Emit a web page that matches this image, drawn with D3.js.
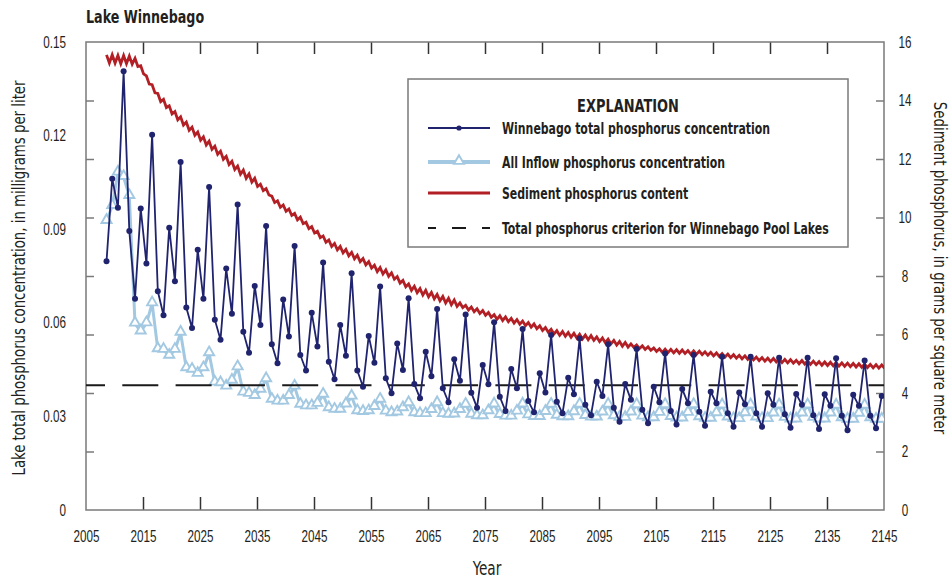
<!DOCTYPE html>
<html>
<head>
<meta charset="utf-8">
<script src="https://cdn.jsdelivr.net/npm/d3@7"></script>
<style>
  html, body { margin: 0; padding: 0; background: #fff; }
  svg { display: block; font-family: "Liberation Sans Narrow", "DejaVu Sans Condensed", "Roboto", sans-serif; }
</style>
</head>
<body>
<svg id="chart" width="949" height="578"></svg>
<script>
// ---- Data ----
const firstYear = 2009;

// Winnebago total phosphorus concentration, mg/L, 2009-2145
const lakeTP = [
  0.0797, 0.1062, 0.0969, 0.1406, 0.0894, 0.0677, 0.0966, 0.0790, 0.1203, 0.0701,
  0.0624, 0.0905, 0.0733, 0.1115, 0.0649, 0.0583, 0.0834, 0.0677, 0.1035, 0.0610,
  0.0546, 0.0774, 0.0629, 0.0979, 0.0571, 0.0504, 0.0718, 0.0593, 0.0910, 0.0531,
  0.0470, 0.0675, 0.0556, 0.0846, 0.0497, 0.0447, 0.0632, 0.0524, 0.0793, 0.0475,
  0.0419, 0.0593, 0.0494, 0.0759, 0.0447, 0.0395, 0.0558, 0.0472, 0.0716, 0.0422,
  0.0374, 0.0534, 0.0449, 0.0679, 0.0404, 0.0358, 0.0507, 0.0429, 0.0644, 0.0390,
  0.0345, 0.0483, 0.0414, 0.0627, 0.0376, 0.0328, 0.0465, 0.0403, 0.0602, 0.0363,
  0.0317, 0.0452, 0.0390, 0.0580, 0.0349, 0.0313, 0.0438, 0.0377, 0.0561, 0.0347,
  0.0310, 0.0424, 0.0371, 0.0550, 0.0337, 0.0304, 0.0411, 0.0365, 0.0531, 0.0328,
  0.0283, 0.0404, 0.0353, 0.0516, 0.0321, 0.0278, 0.0395, 0.0345, 0.0502, 0.0317,
  0.0274, 0.0388, 0.0342, 0.0497, 0.0315, 0.0270, 0.0379, 0.0342, 0.0491, 0.0310,
  0.0267, 0.0377, 0.0339, 0.0491, 0.0310, 0.0267, 0.0374, 0.0337, 0.0488, 0.0307,
  0.0264, 0.0372, 0.0337, 0.0488, 0.0304, 0.0260, 0.0371, 0.0334, 0.0486, 0.0302,
  0.0256, 0.0369, 0.0334, 0.0479, 0.0302, 0.0262, 0.0365
];

// All inflow phosphorus concentration, mg/L, 2009-2145
const inflowTP = [
  0.0926, 0.0974, 0.1081, 0.1067, 0.1006, 0.0597, 0.0572, 0.0598, 0.0662, 0.0515,
  0.0513, 0.0494, 0.0513, 0.0568, 0.0454, 0.0449, 0.0436, 0.0454, 0.0502, 0.0408,
  0.0406, 0.0395, 0.0414, 0.0457, 0.0376, 0.0372, 0.0365, 0.0385, 0.0419, 0.0353,
  0.0347, 0.0347, 0.0365, 0.0395, 0.0337, 0.0332, 0.0332, 0.0340, 0.0369, 0.0326,
  0.0321, 0.0321, 0.0338, 0.0363, 0.0316, 0.0314, 0.0316, 0.0330, 0.0353, 0.0315,
  0.0310, 0.0312, 0.0326, 0.0342, 0.0310, 0.0307, 0.0307, 0.0320, 0.0342, 0.0307,
  0.0305, 0.0306, 0.0320, 0.0337, 0.0305, 0.0300, 0.0300, 0.0316, 0.0338, 0.0304,
  0.0299, 0.0299, 0.0315, 0.0338, 0.0303, 0.0298, 0.0298, 0.0314, 0.0337, 0.0302,
  0.0297, 0.0297, 0.0313, 0.0337, 0.0301, 0.0296, 0.0296, 0.0312, 0.0337, 0.0300,
  0.0295, 0.0295, 0.0312, 0.0336, 0.0299, 0.0294, 0.0294, 0.0311, 0.0336, 0.0298,
  0.0293, 0.0293, 0.0311, 0.0336, 0.0297, 0.0292, 0.0292, 0.0310, 0.0335, 0.0296,
  0.0291, 0.0291, 0.0310, 0.0335, 0.0296, 0.0291, 0.0291, 0.0309, 0.0335, 0.0295,
  0.0290, 0.0290, 0.0309, 0.0335, 0.0295, 0.0290, 0.0290, 0.0309, 0.0334, 0.0294,
  0.0289, 0.0289, 0.0308, 0.0334, 0.0294, 0.0289, 0.0289
];

// Sediment phosphorus content, g/m2: yearly high and low of the zigzag, 2009-2145
const sedimentHigh = [
  15.56, 15.56, 15.54, 15.54, 15.52, 15.44, 15.19, 14.84, 14.54, 14.24,
  14.04, 13.82, 13.62, 13.44, 13.26, 13.09, 12.92, 12.76, 12.61, 12.44,
  12.27, 12.09, 11.92, 11.76, 11.62, 11.49, 11.34, 11.14, 10.99, 10.73,
  10.57, 10.43, 10.29, 10.14, 10.01, 9.84, 9.69, 9.53, 9.37, 9.23,
  9.11, 9.01, 8.91, 8.81, 8.71, 8.60, 8.49, 8.37, 8.29, 8.21,
  8.11, 7.98, 7.85, 7.73, 7.65, 7.57, 7.51, 7.44, 7.37, 7.30,
  7.24, 7.18, 7.08, 7.00, 6.94, 6.88, 6.82, 6.75, 6.68, 6.64,
  6.60, 6.55, 6.51, 6.46, 6.41, 6.36, 6.30, 6.24, 6.18, 6.13,
  6.10, 6.07, 6.04, 6.01, 5.98, 5.96, 5.92, 5.88, 5.84, 5.80,
  5.76, 5.73, 5.68, 5.64, 5.61, 5.58, 5.54, 5.51, 5.50, 5.49,
  5.48, 5.47, 5.45, 5.44, 5.43, 5.41, 5.39, 5.37, 5.35, 5.33,
  5.31, 5.29, 5.27, 5.25, 5.23, 5.21, 5.19, 5.18, 5.16, 5.15,
  5.14, 5.12, 5.11, 5.10, 5.09, 5.07, 5.06, 5.05, 5.04, 5.03,
  5.02, 5.01, 5.00, 4.99, 4.98, 4.97, 4.96
];
const sedimentLow = [
  15.28, 15.28, 15.26, 15.26, 15.24, 15.16, 14.91, 14.56, 14.26, 13.96,
  13.76, 13.54, 13.34, 13.16, 12.98, 12.81, 12.64, 12.48, 12.33, 12.16,
  11.99, 11.81, 11.64, 11.48, 11.34, 11.21, 11.06, 10.92, 10.77, 10.51,
  10.35, 10.21, 10.07, 9.92, 9.79, 9.62, 9.47, 9.31, 9.15, 9.01,
  8.89, 8.79, 8.69, 8.59, 8.49, 8.38, 8.27, 8.15, 8.07, 7.99,
  7.89, 7.76, 7.63, 7.51, 7.43, 7.35, 7.29, 7.22, 7.15, 7.08,
  7.02, 6.96, 6.92, 6.84, 6.78, 6.72, 6.66, 6.59, 6.52, 6.48,
  6.44, 6.39, 6.35, 6.30, 6.25, 6.20, 6.14, 6.08, 6.02, 5.97,
  5.94, 5.91, 5.88, 5.85, 5.82, 5.80, 5.76, 5.72, 5.68, 5.64,
  5.60, 5.57, 5.56, 5.52, 5.49, 5.46, 5.42, 5.39, 5.38, 5.37,
  5.36, 5.35, 5.33, 5.32, 5.31, 5.29, 5.27, 5.25, 5.23, 5.21,
  5.19, 5.17, 5.15, 5.13, 5.11, 5.09, 5.07, 5.06, 5.04, 5.03,
  5.02, 5.00, 4.99, 4.98, 4.97, 4.95, 4.94, 4.93, 4.92, 4.91,
  4.90, 4.89, 4.88, 4.87, 4.86, 4.85, 4.84
];

const criterion = 0.04;

const xTicks = d3.range(2005, 2146, 10);
const leftTicks = [0, 0.03, 0.06, 0.09, 0.12, 0.15];
const rightTicks = d3.range(0, 17, 2);

const legendLabels = [
  "Winnebago total phosphorus concentration",
  "All Inflow phosphorus concentration",
  "Sediment phosphorus content",
  "Total phosphorus criterion for Winnebago Pool Lakes"
];

// ---- Colors ----
const NAVY = "#20236e";
const LIGHT_BLUE = "#a3c9e2";
const RED = "#b21f24";
const AXIS_GRAY = "#7a7a7a";
const TEXT = "#231f20";

// ---- Layout ----
const margin = { top: 42, right: 65, bottom: 68, left: 86 };
const width = 949 - margin.left - margin.right;
const height = 578 - margin.top - margin.bottom;
const pointShift = -0.4; // points sit slightly before the year mark

// the original uses a condensed face; squeeze text horizontally to match
function squeeze(sel, k) {
  sel.each(function() {
    const t = d3.select(this);
    const x0 = +t.attr("x") || 0;
    t.attr("x", x0 / k).attr("transform", `scale(${k},1)`);
  });
}

const svg = d3.select("#chart");
const g = svg.append("g").attr("transform", `translate(${margin.left},${margin.top})`);

const x = d3.scaleLinear().domain([2005, 2145]).range([0, width]);
const yLeft = d3.scaleLinear().domain([0, 0.15]).range([height, 0]);
const yRight = d3.scaleLinear().domain([0, 16]).range([height, 0]);

const lakeData = lakeTP.map((v, i) => ({ year: firstYear + i, v }));
const inflowData = inflowTP.map((v, i) => ({ year: firstYear + i, v }));
const sedimentData = [];
sedimentHigh.forEach((v, i) => {
  sedimentData.push({ t: firstYear + i + pointShift, v });
  sedimentData.push({ t: firstYear + i + pointShift + 0.5, v: sedimentLow[i] });
});

svg.append("defs").append("clipPath").attr("id", "plot-clip")
  .append("rect").attr("width", width).attr("height", height);

// ---- Axes ----
// left labels (no tick marks of their own)
g.append("g")
  .call(d3.axisLeft(yLeft).tickValues(leftTicks).tickSize(0).tickPadding(20)
    .tickFormat(d => d === 0 ? "0" : d3.format(".2f")(d)))
  .call(a => a.select(".domain").remove())
  .selectAll("text").attr("font-size", 16).attr("fill", TEXT).call(squeeze, 0.73);

// right labels
g.append("g")
  .attr("transform", `translate(${width},0)`)
  .call(d3.axisRight(yRight).tickValues(rightTicks).tickSize(0).tickPadding(21))
  .call(a => a.select(".domain").remove())
  .selectAll("text").attr("font-size", 16).attr("fill", TEXT)
  .attr("text-anchor", "middle").call(squeeze, 0.73);

// inward tick marks on both vertical axes
g.append("g")
  .call(d3.axisRight(yRight).tickValues(d3.range(2, 15, 2)).tickSize(8).tickFormat(""))
  .call(a => a.select(".domain").remove())
  .selectAll("line").attr("stroke", AXIS_GRAY).attr("stroke-width", 1.5);
g.append("g")
  .attr("transform", `translate(${width},0)`)
  .call(d3.axisLeft(yRight).tickValues(d3.range(2, 15, 2)).tickSize(8).tickFormat(""))
  .call(a => a.select(".domain").remove())
  .selectAll("line").attr("stroke", AXIS_GRAY).attr("stroke-width", 1.5);

// bottom labels
g.append("g")
  .attr("transform", `translate(0,${height})`)
  .call(d3.axisBottom(x).tickValues(xTicks).tickSize(0).tickPadding(21).tickFormat(d3.format("d")))
  .call(a => a.select(".domain").remove())
  .selectAll("text").attr("font-size", 16).attr("fill", TEXT).call(squeeze, 0.73);

// inward tick marks on bottom and top
const innerX = xTicks.slice(1, -1);
g.append("g")
  .attr("transform", `translate(0,${height})`)
  .call(d3.axisTop(x).tickValues(innerX).tickSize(13).tickFormat(""))
  .call(a => a.select(".domain").remove())
  .selectAll("line").attr("stroke", "#333").attr("stroke-width", 1.5);
g.append("g")
  .call(d3.axisBottom(x).tickValues(innerX).tickSize(12).tickFormat(""))
  .call(a => a.select(".domain").remove())
  .selectAll("line").attr("stroke", "#333").attr("stroke-width", 1.5);

// frame
g.append("rect")
  .attr("width", width).attr("height", height)
  .attr("fill", "none").attr("stroke", AXIS_GRAY).attr("stroke-width", 1.5);

// ---- Series ----
const plot = g.append("g").attr("clip-path", "url(#plot-clip)");

plot.append("path")
  .datum(sedimentData)
  .attr("fill", "none").attr("stroke", RED).attr("stroke-width", 2.8)
  .attr("stroke-linejoin", "miter")
  .attr("d", d3.line().x(d => x(d.t)).y(d => yRight(d.v)));

const triangle = d3.symbol().type(d3.symbolTriangle).size(44);

plot.append("path")
  .datum(inflowData)
  .attr("fill", "none").attr("stroke", LIGHT_BLUE).attr("stroke-width", 3)
  .attr("d", d3.line().x(d => x(d.year + pointShift)).y(d => yLeft(d.v)));

plot.selectAll(".inflow-pt")
  .data(inflowData)
  .join("path")
  .attr("class", "inflow-pt")
  .attr("transform", d => `translate(${x(d.year + pointShift)},${yLeft(d.v) - 1})`)
  .attr("d", triangle)
  .attr("fill", "#fff").attr("stroke", LIGHT_BLUE).attr("stroke-width", 1.9);

plot.append("line")
  .attr("x1", 0).attr("x2", width)
  .attr("y1", yLeft(criterion)).attr("y2", yLeft(criterion))
  .attr("stroke", "#1a1a1a").attr("stroke-width", 2)
  .attr("stroke-dasharray", "36,17.3").attr("stroke-dashoffset", 17);

plot.append("path")
  .datum(lakeData)
  .attr("fill", "none").attr("stroke", NAVY).attr("stroke-width", 1.8)
  .attr("d", d3.line().x(d => x(d.year + pointShift)).y(d => yLeft(d.v)));

plot.selectAll(".lake-pt")
  .data(lakeData)
  .join("circle")
  .attr("class", "lake-pt")
  .attr("cx", d => x(d.year + pointShift))
  .attr("cy", d => yLeft(d.v))
  .attr("r", 3)
  .attr("fill", NAVY);

// ---- Titles ----
svg.append("text")
  .attr("x", 86).attr("y", 23)
  .attr("font-size", 17).attr("font-weight", "bold").attr("fill", TEXT)
  .text("Lake Winnebago")
  .call(squeeze, 0.83);

svg.append("text")
  .attr("transform", `translate(25,${margin.top + height / 2 + 2}) rotate(-90) scale(0.87,1)`)
  .attr("text-anchor", "middle")
  .attr("font-size", 17).attr("fill", TEXT)
  .text("Lake total phosphorus concentration, in milligrams per liter");

svg.append("text")
  .attr("transform", `translate(934,${margin.top + height / 2 - 8}) rotate(90) scale(0.87,1)`)
  .attr("text-anchor", "middle")
  .attr("font-size", 17).attr("fill", TEXT)
  .text("Sediment phosphorus, in grams per square meter");

svg.append("text")
  .attr("x", margin.left + width / 2 + 2).attr("y", 575)
  .attr("text-anchor", "middle")
  .attr("font-size", 19).attr("fill", TEXT)
  .text("Year")
  .call(squeeze, 0.8);

// ---- Legend ----
const legend = svg.append("g").attr("transform", "translate(408,79)");
legend.append("rect")
  .attr("width", 440).attr("height", 168)
  .attr("fill", "#fff").attr("stroke", AXIS_GRAY).attr("stroke-width", 1.5);

legend.append("text")
  .attr("x", 220).attr("y", 33)
  .attr("text-anchor", "middle")
  .attr("font-size", 18).attr("font-weight", "bold").attr("fill", TEXT)
  .text("EXPLANATION")
  .call(squeeze, 0.8);

const rowY = [49, 83, 114, 149];
const sx0 = 20, sx1 = 82, tx = 94;

rowY.forEach((ry, i) => {
  legend.append("text")
    .attr("x", tx).attr("y", ry).attr("dy", "0.35em")
    .attr("font-size", 16).attr("font-weight", "bold").attr("fill", TEXT)
    .text(legendLabels[i])
    .call(squeeze, 0.76);
});

legend.append("line").attr("x1", sx0).attr("x2", sx1).attr("y1", rowY[0]).attr("y2", rowY[0])
  .attr("stroke", NAVY).attr("stroke-width", 1.8);
legend.append("circle").attr("cx", (sx0 + sx1) / 2).attr("cy", rowY[0]).attr("r", 2.6).attr("fill", NAVY);

legend.append("line").attr("x1", sx0).attr("x2", sx1).attr("y1", rowY[1]).attr("y2", rowY[1])
  .attr("stroke", LIGHT_BLUE).attr("stroke-width", 4);
legend.append("path").attr("d", triangle)
  .attr("transform", `translate(${(sx0 + sx1) / 2},${rowY[1] - 1})`)
  .attr("fill", "#fff").attr("stroke", LIGHT_BLUE).attr("stroke-width", 1.9);

legend.append("line").attr("x1", sx0).attr("x2", sx1).attr("y1", rowY[2]).attr("y2", rowY[2])
  .attr("stroke", RED).attr("stroke-width", 2.8);

legend.append("line").attr("x1", sx0).attr("x2", sx1).attr("y1", rowY[3]).attr("y2", rowY[3])
  .attr("stroke", "#1a1a1a").attr("stroke-width", 2)
  .attr("stroke-dasharray", "8,16,14,16,8");
</script>
</body>
</html>
